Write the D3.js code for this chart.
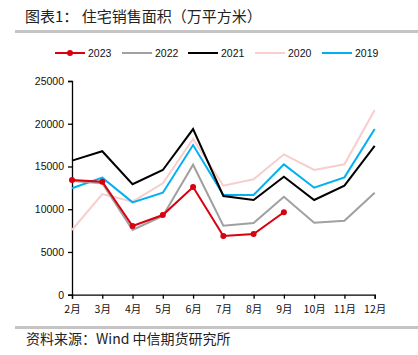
<!DOCTYPE html>
<html><head><meta charset="utf-8">
<script src="https://cdn.jsdelivr.net/npm/d3@7/dist/d3.min.js"></script>
<style>body{margin:0;background:#fff;}svg{display:block;}</style>
</head><body>
<svg id="c" width="418" height="355"></svg>
<script>
const months = ["2月","3月","4月","5月","6月","7月","8月","9月","10月","11月","12月"];
const yTicks = [0,5000,10000,15000,20000,25000];
const s2023 = [13420,13220,8040,9320,12600,6870,7100,9640];
const s2022 = [13300,13030,7570,9210,15210,8070,8390,11460,8430,8660,11930];
const s2021 = [15680,16780,12930,14590,19380,11550,11080,13800,11080,12750,17400];
const s2020 = [7570,11780,10880,13030,18220,12750,13500,16420,14590,15250,21610];
const s2019 = [12450,13690,10800,11930,17510,11660,11660,15250,12520,13730,19380];
const seriesNames = ["2023","2022","2021","2020","2019"];
const seriesData = [s2023,s2022,s2021,s2020,s2019];
const colors = ["#d9000f","#a0a0a0","#000000","#f8cdcd","#00b0f0"];

const svg = d3.select("#c");
const fontCJK = "'Noto Sans CJK SC', sans-serif";
const fontLat = "'Liberation Sans', Arial, sans-serif";

// title
svg.append("text").attr("x",25).attr("y",22).attr("font-family",fontCJK).attr("font-size",15)
  .attr("fill","#222").text("图表1：  住宅销售面积（万平方米）");
svg.append("rect").attr("x",15).attr("y",30).attr("width",403).attr("height",3).attr("fill","#c4c4c4");
svg.append("rect").attr("x",15).attr("y",326).attr("width",403).attr("height",3).attr("fill","#c4c4c4");
svg.append("text").attr("x",26).attr("y",344).attr("font-family",fontCJK).attr("font-size",14)
  .attr("fill","#222").text("资料来源：Wind 中信期货研究所");

const x = d3.scalePoint().domain(months).range([72,374.7]);
const y = d3.scaleLinear().domain([0,25000]).range([294.7,81]);

const gy = svg.append("g").attr("transform","translate(72,0)")
  .call(d3.axisLeft(y).tickValues(yTicks).tickSize(4).tickPadding(4).tickFormat(d3.format("d")));
const gx = svg.append("g").attr("transform","translate(0,294.7)")
  .call(d3.axisBottom(x).tickSize(4).tickPadding(7));
[gx,gy].forEach(g=>{
  g.select(".domain").attr("stroke","#000").attr("stroke-width",1.3);
  g.selectAll(".tick line").attr("stroke","#000").attr("stroke-width",1.3);
  g.selectAll(".tick text").attr("fill","#111").attr("font-size",10.5).attr("font-family",fontCJK);
});
gy.selectAll(".tick text").attr("font-family",fontLat);

const line = d3.line().x((d,i)=>x(months[i])).y(d=>y(d));
// draw order: 2020, 2019, 2022, 2021, 2023 on top
[3,4,1,2,0].forEach(k=>{
  svg.append("path").datum(seriesData[k]).attr("d",line).attr("fill","none")
    .attr("stroke",colors[k]).attr("stroke-width",2).attr("stroke-linejoin","miter");
});
svg.selectAll("circle.m").data(s2023).enter().append("circle")
  .attr("cx",(d,i)=>x(months[i])).attr("cy",d=>y(d)).attr("r",3).attr("fill",colors[0]);

// legend
const lx = [55,122,188,255,322];
seriesNames.forEach((n,k)=>{
  const g = svg.append("g");
  g.append("line").attr("x1",lx[k]).attr("x2",lx[k]+30).attr("y1",53).attr("y2",53)
    .attr("stroke",colors[k]).attr("stroke-width",2);
  if(k===0) g.append("circle").attr("cx",lx[k]+15).attr("cy",53).attr("r",3).attr("fill",colors[k]);
  g.append("text").attr("x",lx[k]+33).attr("y",57).attr("font-family",fontLat).attr("font-size",10.5)
    .attr("fill","#111").text(n);
});
</script>
</body></html>
